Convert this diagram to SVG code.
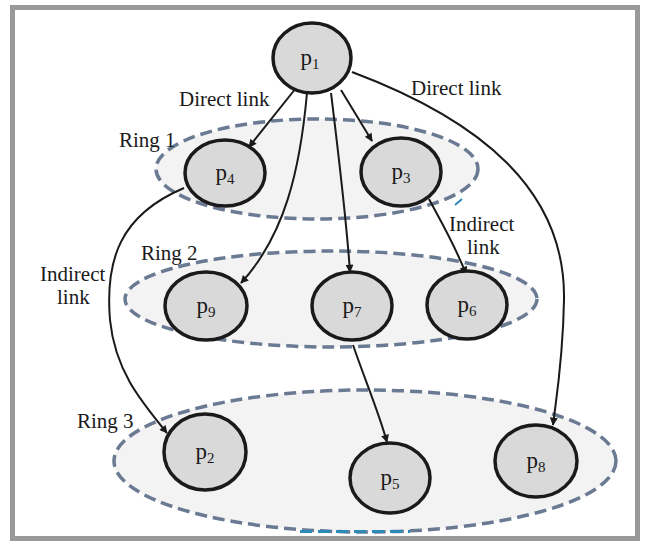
<svg xmlns="http://www.w3.org/2000/svg" width="645" height="546" viewBox="0 0 645 546">
<defs>
<style>
.ring{fill:#f3f3f3;stroke:#6b7a93;stroke-width:3.5;stroke-dasharray:12 6}
.node ellipse{fill:#d9d9d9;stroke:#1a1a1a;stroke-width:3.5}
.lbl{font-family:"Liberation Serif","Times New Roman",serif;font-size:21px;fill:#1a1a1a}
.p{font-family:"Liberation Serif","Times New Roman",serif;font-size:23px;fill:#1a1a1a;text-anchor:middle}
.sub{font-size:15px}
.edge{fill:none;stroke:#1a1a1a;stroke-width:2;marker-end:url(#arr)}
</style>
<marker id="arr" viewBox="0 0 10 10" refX="9" refY="5" markerWidth="9" markerHeight="8" markerUnits="userSpaceOnUse" orient="auto">
<path d="M0,0 L10,5 L0,10 Z" fill="#1a1a1a"/>
</marker>
</defs>
<rect x="0" y="0" width="645" height="546" fill="#ffffff"/>
<rect x="12.5" y="7.5" width="625" height="531" fill="none" stroke="#999999" stroke-width="5"/>

<g id="rings">
<ellipse class="ring" cx="317" cy="169" rx="161" ry="50"/>
<ellipse class="ring" cx="331" cy="299" rx="206" ry="48"/>
<ellipse class="ring" cx="365" cy="461" rx="251" ry="71"/>
<path d="M455,205 L462,199" stroke="#2a8ab8" stroke-width="2" fill="none"/>
<path d="M300,531.5 L410,531.5" stroke="#2a8ab8" stroke-width="3" stroke-dasharray="12 6" fill="none"/>
</g>

<g id="connectors">
<path class="edge" d="M296,88 L249,147"/>
<path class="edge" d="M307,93 C300,170 285,235 241,283"/>
<path class="edge" d="M331,93 C338,150 346,215 350,272"/>
<path class="edge" d="M341,90 L372,141"/>
<path class="edge" d="M352,72 C480,120 566,190 564,300 C563,360 556,400 553,425"/>
<path class="edge" d="M184,188 C120,215 105,260 110,320 C115,370 140,400 167,433"/>
<path class="edge" d="M429,199 C440,220 455,245 466,274"/>
<path class="edge" d="M353,345 C365,380 378,410 387,442"/>
</g>

<g id="labels">
<text class="lbl" x="179" y="106">Direct link</text>
<text class="lbl" x="411" y="95">Direct link</text>
<text class="lbl" x="119" y="147">Ring 1</text>
<text class="lbl" x="141" y="260">Ring 2</text>
<text class="lbl" x="77" y="428">Ring 3</text>
<text class="lbl" x="40" y="281">Indirect</text>
<text class="lbl" x="57" y="304">link</text>
<text class="lbl" x="449" y="231">Indirect</text>
<text class="lbl" x="467" y="254">link</text>
</g>

<g id="p1" class="node"><ellipse cx="312" cy="58" rx="39" ry="35"/><text class="p" x="310" y="65">p<tspan class="sub" dy="4">1</tspan></text></g>
<g id="p4" class="node"><ellipse cx="225" cy="173" rx="40" ry="33"/><text class="p" x="225" y="180">p<tspan class="sub" dy="4">4</tspan></text></g>
<g id="p3" class="node"><ellipse cx="401" cy="172" rx="40" ry="34"/><text class="p" x="401" y="179">p<tspan class="sub" dy="4">3</tspan></text></g>
<g id="p9" class="node"><ellipse cx="206" cy="306" rx="41" ry="34"/><text class="p" x="206" y="313">p<tspan class="sub" dy="4">9</tspan></text></g>
<g id="p7" class="node"><ellipse cx="352" cy="306" rx="40" ry="34"/><text class="p" x="352" y="313">p<tspan class="sub" dy="4">7</tspan></text></g>
<g id="p6" class="node"><ellipse cx="467" cy="305" rx="40" ry="34"/><text class="p" x="467" y="312">p<tspan class="sub" dy="4">6</tspan></text></g>
<g id="p2" class="node"><ellipse cx="205" cy="452" rx="41" ry="38"/><text class="p" x="205" y="459">p<tspan class="sub" dy="4">2</tspan></text></g>
<g id="p5" class="node"><ellipse cx="390" cy="478" rx="40" ry="35"/><text class="p" x="390" y="485">p<tspan class="sub" dy="4">5</tspan></text></g>
<g id="p8" class="node"><ellipse cx="536" cy="461" rx="41" ry="36"/><text class="p" x="536" y="468">p<tspan class="sub" dy="4">8</tspan></text></g>
</svg>
